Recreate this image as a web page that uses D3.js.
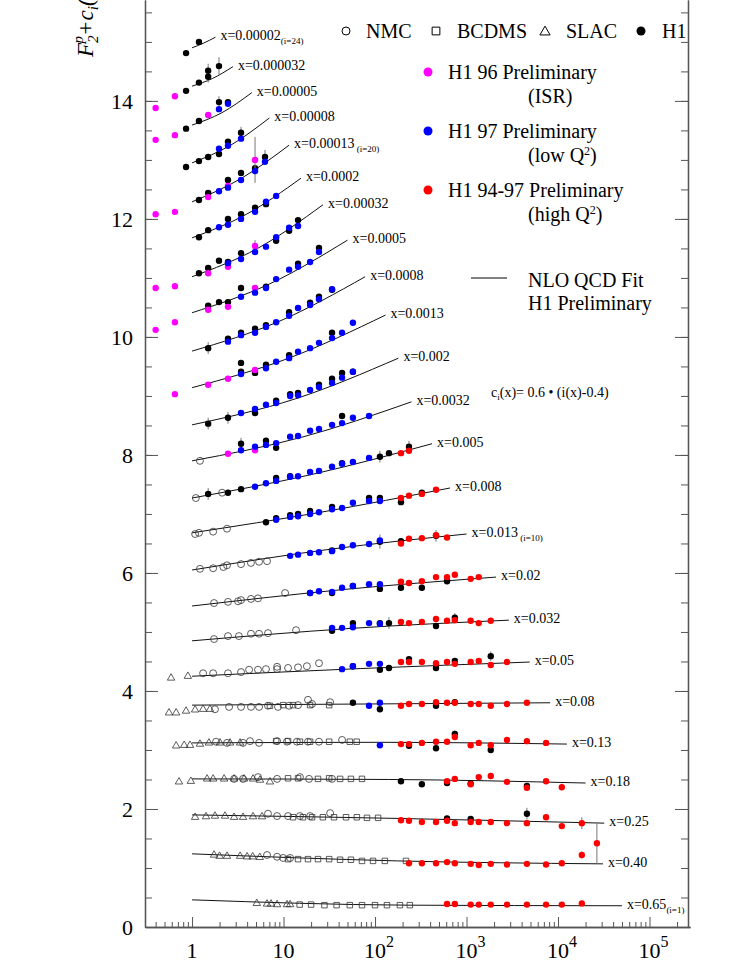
<!DOCTYPE html>
<html>
<head>
<meta charset="utf-8">
<script src="https://cdn.jsdelivr.net/npm/d3@7"></script>
<style>
  body { margin: 0; background: #fff; }
  svg { font-family: "Liberation Serif", "DejaVu Serif", serif; }
</style>
</head>
<body>
<div id="chart"></div>
<script>
// bins i=1..24 (index 0 is i=1), plotted value is F2 + c_i
var binX = ["0.65", "0.40", "0.25", "0.18", "0.13", "0.08", "0.05", "0.032", "0.02", "0.013",
            "0.008", "0.005", "0.0032", "0.002", "0.0013", "0.0008", "0.0005", "0.00032", "0.0002", "0.00013",
            "0.00008", "0.00005", "0.000032", "0.00002"];
var binTag = {0: "(i=1)", 9: " (i=10)", 19: " (i=20)", 23: "(i=24)"};
// NLO QCD fit: value at Q2=1, at the geometric middle, and at the end point
var fitStart = [0.46, 1.24, 1.90, 2.51, 3.12, 3.76, 4.25, 4.85, 5.44, 6.05, 6.68, 7.27, 7.90, 8.51, 9.14, 9.76, 10.41, 11.02, 11.68, 12.29, 12.95, 13.59, 14.25, 14.90];
var fitMid   = [0.37, 1.12, 1.84, 2.50, 3.13, 3.78, 4.38, 5.06, 5.72, 6.40, 7.03, 7.67, 8.30, 8.95, 9.64, 10.26, 10.90, 11.50, 12.08, 12.68, 13.25, 13.80, 14.38, 14.98];
var fitEnd   = [0.36, 1.07, 1.76, 2.44, 3.10, 3.80, 4.49, 5.20, 5.93, 6.66, 7.44, 8.19, 8.90, 9.64, 10.37, 11.02, 11.64, 12.24, 12.69, 13.25, 13.71, 14.14, 14.58, 15.08];
var fitQ2End = [50000, 31000, 32000, 20000, 12500, 8200, 4900, 2900, 2100, 1000, 660, 420, 250, 180, 130, 78, 50, 27, 15.5, 11.5, 7, 4.5, 2.8, 1.8];

// [Q2, F2 + c_i, error]
var slac = [[0.59,4.22],[0.9,4.25],
  [0.56,3.63],[0.67,3.63],[0.86,3.66],[1.08,3.68],[1.32,3.69],[1.57,3.69],
  [0.67,3.07],[0.82,3.08],[0.95,3.08],[1.22,3.10],[1.53,3.12],[2.02,3.12],[2.6,3.12],[3.35,3.12],
  [0.72,2.46],[0.97,2.47],[1.46,2.51],[1.7,2.51],[2.24,2.51],[2.88,2.51],[3.7,2.51],[4.64,2.51],[5.53,2.49],[7.1,2.46],
  [1.08,1.86],[1.42,1.87],[1.78,1.88],[2.29,1.88],[2.88,1.86],[3.61,1.86],[4.64,1.87],[5.82,1.87],
  [1.74,1.22],[2.0,1.20],[2.41,1.20],[3.35,1.20],[3.99,1.19],[4.6,1.19],[5.5,1.18],
  [5.1,0.40],[6.6,0.39],[7.3,0.39],[8.5,0.38],[10.9,0.38],[11.8,0.38]];
var nmc = [[1.22,7.9],[1.1,7.27],[2.13,7.36],
  [1.08,6.66],[1.19,6.68],[1.7,6.7],[2.41,6.75],
  [1.22,6.07],[1.7,6.08],[2.2,6.10],[2.41,6.13],[3.43,6.15],[4.4,6.17],[5.4,6.19],[6.6,6.2],
  [1.74,5.49],[2.47,5.51],[3.18,5.52],[3.43,5.54],[4.41,5.56],[5.26,5.57],[10.4,5.66],
  [1.74,4.88],[2.47,4.93],[3.25,4.93],[4.41,4.97],[5.4,4.97],[6.76,4.98],[13.7,5.03],
  [1.32,4.30],[1.7,4.30],[2.47,4.30],[3.43,4.32],[4.2,4.36],[5.26,4.36],[6.43,4.37],[8.5,4.41],[8.5,4.37],[11.2,4.39],[14.4,4.40],[18.0,4.42],[24.4,4.47],
  [1.78,3.69],[2.54,3.73],[3.43,3.73],[4.41,3.73],[5.4,3.73],[6.76,3.75],[8.7,3.73],[11.5,3.75],[14.4,3.76],[18.5,3.85],[20.5,3.78],[32.3,3.81],
  [1.83,3.14],[2.41,3.12],[3.61,3.12],[4.3,3.15],[5.4,3.12],[8.5,3.15],[10.9,3.14],[14.0,3.14],[18.5,3.14],[24.4,3.14],[43.6,3.17],
  [2.88,2.51],[3.61,2.51],[5.26,2.54],[8.5,2.51],[15.1,2.54],[19.0,2.51],[33.9,2.51],
  [6.76,1.92],[8.5,1.88],[11.2,1.88],[15.1,1.88],[19.5,1.88],[32.3,1.93],
  [6.6,1.22],[8.5,1.19],[9.9,1.17],[11.8,1.17]];
var bcdms = [[7.1,3.75],[9.9,3.76],[12.7,3.76],[19.5,3.76],[31.5,3.76],
  [8.3,3.15],[11.2,3.15],[15.1,3.14],[19.5,3.14],[31.5,3.14],[53,3.14],[63,3.14],
  [11.2,2.52],[14.4,2.52],[23.8,2.51],[31.5,2.52],[41.5,2.51],[54.5,2.51],[72,2.51],
  [12.7,1.86],[16.3,1.86],[20.5,1.86],[26.9,1.86],[35.6,1.86],[48.2,1.86],[63.3,1.86],[81.6,1.85],[108,1.85],
  [11.2,1.15],[14.4,1.15],[18.5,1.15],[23.8,1.15],[31.5,1.15],[41.5,1.14],[54.5,1.14],[72,1.12],[95,1.12],[128,1.12],[218,1.12],
  [15,0.38],[20,0.38],[28,0.37],[38,0.37],[53,0.37],[72,0.37],[100,0.37],[135,0.37],[187,0.37],[240,0.37]];
var h1 = [[0.86,14.81],[1.19,15.0],
  [0.86,14.17],[1.19,14.31],[1.5,14.41,0.1],[1.5,14.51,0.12],[1.97,14.59,0.15],
  [0.86,13.53],[1.19,13.66],[1.97,13.98,0.1],[2.47,13.98],
  [0.86,12.88],[1.19,12.98],[1.5,13.05],[1.97,13.10],[2.47,13.31],[3.43,13.46,0.1],
  [1.19,12.32],[1.5,12.44],[2.47,12.66],[3.43,12.78],[4.88,12.86],[6.27,13.05,0.12],
  [1.19,11.69],[1.5,11.81],[2.47,12.0],[3.43,12.08],[4.88,12.19],[6.43,12.25],
  [1.19,11.08],[1.5,11.17],[1.97,11.29],[2.47,11.27],[3.43,11.42],[8.3,11.63],[11.5,11.80],[14.4,11.98],
  [1.5,10.53],[1.97,10.59],[2.47,10.59],[3.43,10.83],[6.43,10.85],[14.4,11.24],[24.4,11.51],
  [1.5,9.81,0.1],[2.47,9.97],[3.43,10.07],[4.88,10.14],[6.43,10.2],[11.5,10.42],[19.5,10.58],[24.4,10.68],[33.9,10.8],
  [3.43,9.41],[4.88,9.39],[3.43,9.56],[6.43,9.53],[11.5,9.69],[33.9,10.07],
  [1.5,8.53,0.1],[2.47,8.63,0.1],[4.88,8.71],[8.3,8.92],[11.8,9.03],[14.4,9.05],[24.4,9.19],[33.9,9.29],[43.6,9.39],[57.3,9.41],
  [3.43,8.19,0.1],[6.43,8.24],[8.3,8.12],[43.6,8.66],
  [1.5,7.34,0.1],[2.47,7.36],[3.43,7.42],[8.3,7.61],[11.8,7.64],[43.6,7.86],[113,7.97,0.1],[142,8.03],[235,8.14,0.1],
  [6.43,6.86],[8.3,6.93],[11.8,6.98],[14.4,7.0],[19.5,7.05],[33.9,7.12],[86,7.27],[113,7.27],[192,7.2],[325,7.36],
  [33.9,6.38],[113,6.53,0.12],[192,6.54],[464,6.63,0.1],
  [19.5,5.66],[33.9,5.66],[57.3,5.78],[113,5.73],[192,5.75],[325,5.75],[612,5.86],
  [33.9,5.02],[57.3,5.15],[113,5.15],[142,5.15,0.1],[464,5.10],[745,5.24,0.08],
  [57.3,4.42],[113,4.36],[142,4.39],[235,4.54],[464,4.39],[745,4.51],[1840,4.59,0.08],
  [57.3,3.80],[113,3.69],[464,3.75],[745,3.81],
  [235,3.07],[464,3.03],[745,3.27,0.06],[1840,3.0],
  [192,2.47],[325,2.42],[612,2.44],[1110,2.43],[4570,2.39],
  [612,1.84],[1110,1.83],[4570,1.92,0.1]];
var h1Isr = [[0.40,13.88],[0.65,14.08],[0.40,13.34],[0.65,13.42],[1.5,13.76],[0.40,12.08],[0.65,12.12],
  [1.5,12.37],[2.47,12.56],[4.88,13.0,0.39],[4.88,11.54,0.1],[2.47,11.19],[1.5,11.08],[0.40,10.83],[0.65,10.86],
  [4.88,10.83],[1.5,10.46],[2.47,10.51],[0.40,10.12],[0.65,10.25],[1.5,9.19],[2.47,9.29],[4.88,9.44],
  [0.65,9.03],[2.47,8.02],[4.88,8.08]];
var h1Low = [[1.97,13.86],[2.47,13.95],
  [1.97,13.19],[2.47,13.24],[3.43,13.36],
  [1.97,12.47],[2.47,12.53],[3.43,12.66],[4.88,12.81],[6.27,12.97],
  [1.97,11.86],[2.47,11.90],[3.43,12.0],[4.88,12.12],[6.43,12.29],[8.3,12.39],
  [2.47,11.25],[3.43,11.32],[4.88,11.44],[6.43,11.53],[8.3,11.69],[11.5,11.85],[14.4,11.88],
  [3.43,10.68],[4.88,10.75],[6.43,10.83],[8.3,10.98],[11.5,11.14],[14.4,11.19],[19.5,11.27],[24.4,11.44],
  [2.47,9.92],[3.43,10.03],[4.88,10.07],[6.43,10.17],[8.3,10.25],[11.5,10.36],[14.4,10.49],[19.5,10.54],[24.4,10.64],[33.9,10.81],
  [3.43,9.37],[6.43,9.47],[8.3,9.58],[11.5,9.64],[14.4,9.75],[19.5,9.81],[24.4,9.90],[33.9,9.98],[43.6,10.07],[57.3,10.24],
  [3.43,8.71],[4.88,8.78],[6.43,8.85],[8.3,8.88],[11.8,9.0],[14.4,9.01],[19.5,9.10],[24.4,9.15],[33.9,9.22],[43.6,9.31],[57.3,9.41],
  [3.43,8.08],[4.88,8.14],[6.43,8.17],[8.3,8.2],[11.8,8.31],[14.4,8.32],[19.5,8.41],[24.4,8.44],[33.9,8.51],[43.6,8.54],[57.3,8.63],[86,8.66],
  [4.88,7.46],[6.43,7.52],[8.3,7.56],[11.8,7.63],[14.4,7.64],[19.5,7.71],[24.4,7.73],[33.9,7.80],[43.6,7.85],[57.3,7.88],[86,7.95],
  [8.3,6.90],[11.8,6.95],[14.4,6.96],[19.5,7.0],[24.4,7.03],[33.9,7.08],[43.6,7.10],[57.3,7.19],[86,7.22],[113,7.22],
  [11.8,6.29],[14.4,6.31],[19.5,6.34],[24.4,6.35],[33.9,6.37],[43.6,6.44],[57.3,6.47],[86,6.49],[113,6.55],
  [19.5,5.66],[24.4,5.69],[33.9,5.68],[43.6,5.75],[57.3,5.78],[86,5.81],[113,5.81],
  [33.9,5.07],[43.6,5.07],[57.3,5.08],[86,5.15],[113,5.14],
  [43.6,4.37],[57.3,4.42],[86,4.46],[113,4.46],
  [86,3.75],[113,3.80],
  [113,3.08]];
var h1High = [[612,0.39],[745,0.39],[1110,0.38],[1360,0.38],[1840,0.38],[2770,0.38],[4570,0.38],[7400,0.38],[11000,0.38],[18200,0.40],
  [235,1.08],[325,1.08],[464,1.08],[612,1.10],[745,1.08],[1110,1.07],[1360,1.05],[1840,1.07],[2770,1.06],[4570,1.07],[7400,1.06],[11000,1.08],[18200,1.22,0.06],[26600,1.42,0.34],
  [192,1.81],[235,1.80],[325,1.78],[464,1.78],[612,1.80],[745,1.76],[1110,1.78],[1360,1.78],[1840,1.78],[2770,1.76],[4570,1.76],[7400,1.86],[11000,1.71],[18200,1.76,0.1],
  [612,2.47],[745,2.51],[1110,2.42],[1360,2.54],[1840,2.56],[2770,2.46],[4570,2.36],[7400,2.47],[11000,2.37,0.06],
  [192,3.10],[235,3.10],[325,3.12],[464,3.14],[612,3.14],[745,3.22],[1110,3.08],[1360,3.12],[1840,3.08],[2770,3.17],[4570,3.15],[7400,3.12],
  [192,3.75],[235,3.78],[325,3.78],[464,3.81],[612,3.80],[745,3.80],[1110,3.78],[1360,3.78],[1840,3.75],[2770,3.78],[4570,3.80],
  [192,4.49],[235,4.49],[325,4.49],[464,4.47],[612,4.49],[745,4.46],[1110,4.49],[1360,4.51],[1840,4.44],[2770,4.49],
  [192,5.17],[235,5.15],[325,5.17],[464,5.22],[612,5.19],[745,5.20],[1110,5.19],[1360,5.15],[1840,5.19],
  [192,5.85],[235,5.83],[325,5.86],[464,5.93],[612,5.93],[745,5.97],[1110,5.90],[1360,5.93],
  [192,6.50],[235,6.58],[325,6.59],[464,6.64],[612,6.60],
  [192,7.27],[235,7.31],[325,7.34],[464,7.41],
  [192,8.03],[235,8.07]];

var xDecades = [1, 10, 100, 1000, 10000, 100000];
var yMajor = [0, 2, 4, 6, 8, 10, 12, 14];

var W = 747, H = 969;
var svg = d3.select("#chart").append("svg").attr("width", W).attr("height", H);

var x = d3.scaleLog().domain([0.306, 2.77e5]).range([145, 690]);
var y = d3.scaleLinear().domain([0, 15.71]).range([927, 0]);

// axes
var axisCol = "#555";
var minorX = [];
for (var e = -1; e <= 5; e++) {
    for (var k = 2; k <= 9; k++) {
        var v = k * Math.pow(10, e);
        if (v > x.domain()[0] && v < x.domain()[1]) minorX.push(v);
    }
}
var minorY = d3.range(0, 15.6, 0.5);

function styleAxis(g) {
    g.selectAll("path").attr("stroke", axisCol).attr("stroke-width", 1.3);
    g.selectAll("line").attr("stroke", axisCol).attr("stroke-width", 1);
    g.selectAll("text").remove();
}
svg.append("g").attr("transform", "translate(0,927)")
    .call(d3.axisBottom(x).tickValues(minorX).tickSize(-5).tickSizeOuter(0)).call(styleAxis);
svg.append("g").attr("transform", "translate(0,927)")
    .call(d3.axisBottom(x).tickValues(xDecades).tickSize(-10).tickSizeOuter(0)).call(styleAxis);
svg.append("g").attr("transform", "translate(145,0)")
    .call(d3.axisRight(y).tickValues(minorY).tickSize(7).tickSizeOuter(0)).call(styleAxis);
svg.append("g").attr("transform", "translate(145,0)")
    .call(d3.axisRight(y).tickValues(yMajor).tickSize(13).tickSizeOuter(0)).call(styleAxis);
svg.append("g").attr("transform", "translate(688,0)")
    .call(d3.axisLeft(y).tickValues(minorY).tickSize(7).tickSizeOuter(0)).call(styleAxis);
svg.append("g").attr("transform", "translate(688,0)")
    .call(d3.axisLeft(y).tickValues(yMajor).tickSize(13).tickSizeOuter(0)).call(styleAxis);

// tick labels
yMajor.forEach(function(v) {
    svg.append("text").attr("x", 133).attr("y", y(v) + 8).attr("text-anchor", "end")
        .attr("font-size", 22).text(v);
});
xDecades.forEach(function(v, i) {
    var t = svg.append("text").attr("x", x(v)).attr("y", 958).attr("text-anchor", "middle").attr("font-size", 22);
    if (i < 2) t.text(v);
    else {
        t.attr("x", x(v) + 4);
        t.append("tspan").text("10");
        t.append("tspan").attr("dy", -11).attr("font-size", 16).text(i);
    }
});

// y title (cut at the top)
var yt = svg.append("text").attr("transform", "translate(93,57) rotate(-90)")
    .attr("font-size", 23).attr("font-style", "italic");
yt.append("tspan").text("F");
yt.append("tspan").attr("font-size", 15).attr("dy", 5).text("2");
yt.append("tspan").attr("font-size", 15).attr("dx", -8).attr("dy", -15).text("p");
yt.append("tspan").attr("dy", 10).text("+c");
yt.append("tspan").attr("font-size", 15).attr("dy", 5).text("i");
yt.append("tspan").attr("dy", -5).text("(x)");

// fit lines
var line = d3.line().x(function(d) { return x(d[0]); }).y(function(d) { return y(d[1]); })
    .curve(d3.curveMonotoneX);
binX.forEach(function(bx, i) {
    var knots = [[1, fitStart[i]], [Math.sqrt(fitQ2End[i]), fitMid[i]], [fitQ2End[i], fitEnd[i]]];
    svg.append("path").attr("d", line(knots)).attr("fill", "none")
        .attr("stroke", "#111").attr("stroke-width", 1);
    var t = svg.append("text").attr("x", x(fitQ2End[i]) + 5).attr("y", y(fitEnd[i]) + 3)
        .attr("font-size", 14).text("x=" + bx);
    if (binTag[i]) t.append("tspan").attr("font-size", 9).attr("dy", 4).text(binTag[i]);
});

// markers
function errBars(data) {
    svg.append("g").selectAll("line").data(data.filter(function(d) { return d[2]; })).join("line")
        .attr("x1", function(d) { return x(d[0]); }).attr("x2", function(d) { return x(d[0]); })
        .attr("y1", function(d) { return y(d[1] - d[2]); }).attr("y2", function(d) { return y(d[1] + d[2]); })
        .attr("stroke", "#777").attr("stroke-width", 1);
}
function openSym(data, type, size) {
    svg.append("g").selectAll("path").data(data).join("path")
        .attr("d", d3.symbol().type(type).size(size))
        .attr("transform", function(d) { return "translate(" + x(d[0]) + "," + y(d[1]) + ")"; })
        .attr("fill", "none").attr("stroke", "#333").attr("stroke-width", 0.8);
}
function dots(data, col) {
    errBars(data);
    svg.append("g").selectAll("circle").data(data).join("circle")
        .attr("cx", function(d) { return x(d[0]); }).attr("cy", function(d) { return y(d[1]); })
        .attr("r", 3.2).attr("fill", col);
}
openSym(slac, d3.symbolTriangle, 24);
openSym(bcdms, d3.symbolSquare, 30);
openSym(nmc, d3.symbolCircle, 38);
dots(h1, "#000");
dots(h1Isr, "#ff00ff");
dots(h1Low, "#0000ff");
dots(h1High, "#ff0000");

// legend
var lg = svg.append("g").attr("font-size", 20);
lg.append("circle").attr("cx", 346).attr("cy", 31).attr("r", 4).attr("fill", "none").attr("stroke", "#000");
lg.append("text").attr("x", 366).attr("y", 38).text("NMC");
lg.append("path").attr("d", d3.symbol().type(d3.symbolSquare).size(60)).attr("transform", "translate(436,31)")
    .attr("fill", "none").attr("stroke", "#000");
lg.append("text").attr("x", 457).attr("y", 38).text("BCDMS");
lg.append("path").attr("d", d3.symbol().type(d3.symbolTriangle).size(45)).attr("transform", "translate(545,32)")
    .attr("fill", "none").attr("stroke", "#000");
lg.append("text").attr("x", 566).attr("y", 38).text("SLAC");
lg.append("circle").attr("cx", 641).attr("cy", 31).attr("r", 4.5).attr("fill", "#000");
lg.append("text").attr("x", 662).attr("y", 38).text("H1");

var extra = [["#ff00ff", 72, "H1 96 Preliminary", "(ISR)", null],
             ["#0000ff", 131, "H1 97 Preliminary", "(low Q", ")"],
             ["#ff0000", 190, "H1 94-97 Preliminary", "(high Q", ")"]];
extra.forEach(function(r) {
    lg.append("circle").attr("cx", 428).attr("cy", r[1]).attr("r", 4.5).attr("fill", r[0]);
    lg.append("text").attr("x", 448).attr("y", r[1] + 7).text(r[2]);
    var t = lg.append("text").attr("x", 528).attr("y", r[1] + 31).text(r[3]);
    if (r[4]) {
        t.append("tspan").attr("font-size", 12).attr("dy", -7).text("2");
        t.append("tspan").attr("dy", 7).text(r[4]);
    }
});
lg.append("line").attr("x1", 471).attr("x2", 507).attr("y1", 278).attr("y2", 278).attr("stroke", "#000");
lg.append("text").attr("x", 528).attr("y", 287).text("NLO QCD Fit");
lg.append("text").attr("x", 528).attr("y", 310).text("H1 Preliminary");

var ct = svg.append("text").attr("x", 491).attr("y", 397).attr("font-size", 14);
ct.append("tspan").text("c");
ct.append("tspan").attr("font-size", 9).attr("dy", 3).text("i");
ct.append("tspan").attr("dy", -3).text("(x)= 0.6 \u2022 (i(x)-0.4)");
</script>
</body>
</html>
